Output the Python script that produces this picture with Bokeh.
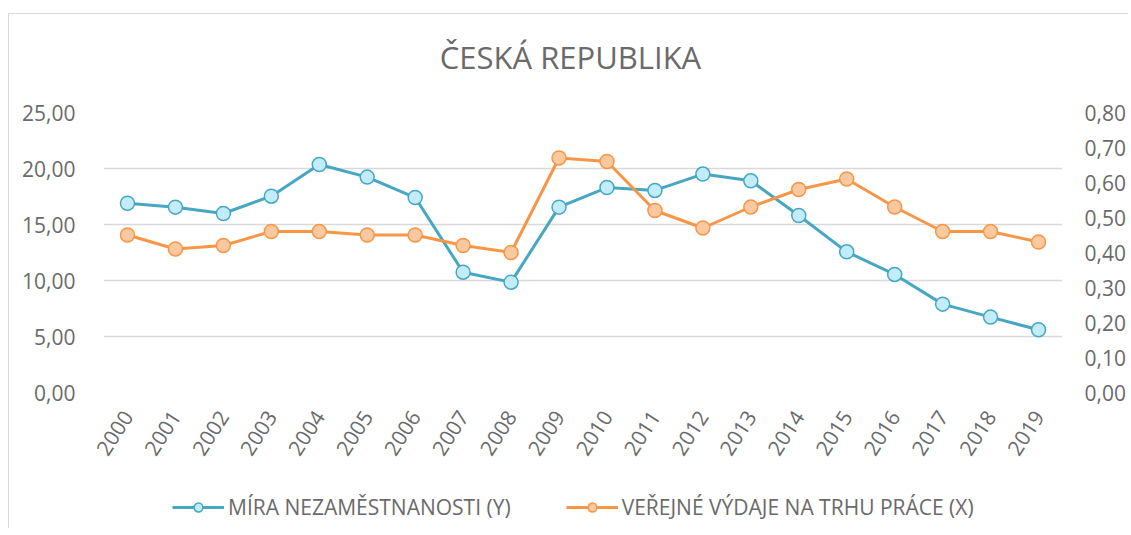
import math
from bokeh.plotting import figure
from bokeh.layouts import column
from bokeh.models import (FactorRange, Range1d, LinearAxis, FixedTicker, Legend, LegendItem, Label)
from bokeh.embed import file_html
from bokeh.resources import INLINE

# ---- data ----
years = [str(y) for y in range(2000, 2020)]
mira_nezamestnanosti = [16.9, 16.55, 15.98, 17.53, 20.36, 19.23, 17.41, 10.74, 9.85, 16.55,
                        18.30, 18.04, 19.50, 18.90, 15.80, 12.56, 10.54, 7.89, 6.73, 5.60]
verejne_vydaje = [0.45, 0.41, 0.42, 0.46, 0.46, 0.45, 0.45, 0.42, 0.40, 0.67,
                  0.66, 0.52, 0.47, 0.53, 0.58, 0.61, 0.53, 0.46, 0.46, 0.43]
left_ticks = [0, 5, 10, 15, 20, 25]
left_labels = ["0,00", "5,00", "10,00", "15,00", "20,00", "25,00"]
right_ticks = [0.0, 0.1, 0.2, 0.3, 0.4, 0.5, 0.6, 0.7, 0.8]
right_labels = ["0,00", "0,10", "0,20", "0,30", "0,40", "0,50", "0,60", "0,70", "0,80"]
title_text = "ČESKÁ REPUBLIKA"
label_y = "MÍRA NEZAMĚSTNANOSTI (Y)"
label_x = "VEŘEJNÉ VÝDAJE NA TRHU PRÁCE (X)"

FONT = "Open Sans"
TXT = "#6a6a6a"
BLUE = "#46a7c2"
BLUE_FILL = "#c2ecfa"
ORANGE = "#f79646"
ORANGE_FILL = "#fbc8a0"
GRID = "#d9d9d9"

x_range = FactorRange(*years, range_padding=0)

# ---- title strip ----
tt = figure(width=1110, height=70, output_backend="svg", toolbar_location=None, title=None,
            x_range=Range1d(0, 1), y_range=Range1d(0, 1),
            min_border=0, x_axis_location=None, y_axis_location=None, outline_line_color=None)
tt.xgrid.grid_line_color = None
tt.ygrid.grid_line_color = None
tt.add_layout(Label(x=0.5, y=0.4, text=title_text, text_align="center", text_baseline="middle",
                    x_offset=-8, text_font=FONT, text_font_size="31px", text_color=TXT))

# ---- main chart ----
p = figure(x_range=x_range, y_range=Range1d(0, 25), title=None,
           frame_width=959, frame_height=280, output_backend="svg", toolbar_location=None,
           min_border_left=94, min_border_top=28, min_border_bottom=100, min_border_right=0)
p.extra_y_ranges = {"x": Range1d(0, 0.8)}

p.outline_line_color = None
p.xgrid.grid_line_color = None
p.ygrid.grid_line_color = GRID
p.ygrid.grid_line_width = 1.5
p.ygrid.ticker = FixedTicker(ticks=left_ticks)

# left axis
ya = p.yaxis[0]
ya.ticker = FixedTicker(ticks=left_ticks)
ya.major_label_overrides = {t: l for t, l in zip(left_ticks, left_labels)}
ya.axis_line_color = None
ya.major_tick_line_color = None
ya.minor_tick_line_color = None
ya.major_label_standoff = 22
ya.major_label_text_font = FONT
ya.major_label_text_font_size = "21px"
ya.major_label_text_color = TXT

# right axis
ra = LinearAxis(y_range_name="x", ticker=FixedTicker(ticks=right_ticks))
ra.major_label_overrides = {t: l for t, l in zip(right_ticks, right_labels)}
ra.axis_line_color = None
ra.major_tick_line_color = None
ra.minor_tick_line_color = None
ra.major_label_standoff = 16
ra.major_label_text_font = FONT
ra.major_label_text_font_size = "21px"
ra.major_label_text_color = TXT
p.add_layout(ra, "right")

# x axis
xa = p.xaxis[0]
xa.axis_line_color = None
xa.major_tick_line_color = None
xa.minor_tick_line_color = None
xa.major_label_orientation = math.radians(57)
xa.major_label_standoff = 14
xa.major_label_text_font = FONT
xa.major_label_text_font_size = "21px"
xa.major_label_text_color = TXT

# series
p.line(years, mira_nezamestnanosti, line_color=BLUE, line_width=3)
p.scatter(years, mira_nezamestnanosti, size=14, fill_color=BLUE_FILL, line_color=BLUE, line_width=1.5)
p.line(years, verejne_vydaje, line_color=ORANGE, line_width=3, y_range_name="x")
p.scatter(years, verejne_vydaje, size=14, fill_color=ORANGE_FILL, line_color=ORANGE, line_width=1.5,
          y_range_name="x")

# ---- legend strip (same series, drawn out of view; only the legend shows) ----
lg = figure(width=1110, height=36, output_backend="svg", toolbar_location=None, title=None,
            x_range=x_range, y_range=Range1d(-2, -1),
            min_border=0, x_axis_location=None, y_axis_location=None, outline_line_color=None)
lg.xgrid.grid_line_color = None
lg.ygrid.grid_line_color = None
lb1 = lg.line(years, mira_nezamestnanosti, line_color=BLUE, line_width=3)
lb2 = lg.scatter(years, mira_nezamestnanosti, size=12, fill_color=BLUE_FILL, line_color=BLUE, line_width=1.5)
lo1 = lg.line(years, verejne_vydaje, line_color=ORANGE, line_width=3)
lo2 = lg.scatter(years, verejne_vydaje, size=12, fill_color=ORANGE_FILL, line_color=ORANGE, line_width=1.5)
legend = Legend(items=[LegendItem(label=label_y, renderers=[lb1, lb2]),
                       LegendItem(label=label_x, renderers=[lo1, lo2])],
                orientation="horizontal", location=(69, 7), padding=0, margin=0,
                spacing=55, glyph_width=52, glyph_height=22, label_standoff=4,
                label_text_font=FONT, label_text_font_size="21px", label_text_color=TXT,
                background_fill_alpha=0, border_line_color=None)
lg.add_layout(legend, "center")

layout = column(tt, p, lg, spacing=0,
                styles={"border-top": "1px solid #d9d9d9", "border-left": "1px solid #d9d9d9",
                        "position": "relative", "top": "13px", "left": "8px"})

open("out.html", "w").write(file_html(layout, INLINE))
